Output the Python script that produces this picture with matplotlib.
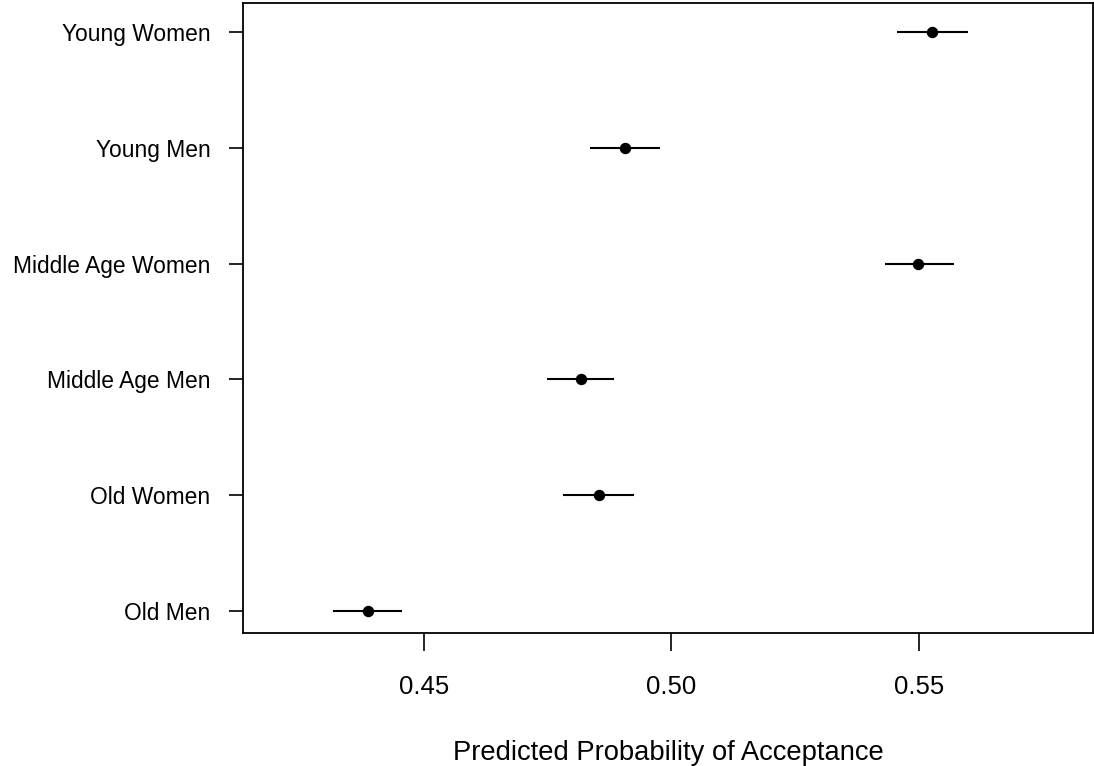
import matplotlib
matplotlib.use("Agg")
import matplotlib.pyplot as plt

# groups, bottom to top as drawn
groups = ["Old Men", "Old Women", "Middle Age Men", "Middle Age Women",
          "Young Men", "Young Women"]
estimate = [0.4388, 0.4854, 0.4818, 0.5498, 0.4907, 0.5525]
lower = [0.4316, 0.4781, 0.4749, 0.5431, 0.4835, 0.5456]
upper = [0.4457, 0.4925, 0.4884, 0.5571, 0.4976, 0.5599]
xticks = [0.45, 0.50, 0.55]

plt.rcParams['font.family'] = ['Liberation Sans', 'DejaVu Sans']

fig = plt.figure(figsize=(10.94, 7.66), dpi=100)
ax = fig.add_axes([243 / 1094, 133 / 766, 850 / 1094, 630 / 766])

pos = list(range(1, len(groups) + 1))
ax.hlines(pos, lower, upper, color="black", linewidth=1.5)
ax.plot(estimate, pos, "o", color="black", markersize=7.2)

ax.set_xlim(0.4135, 0.5851)
ax.set_ylim(0.81, 6.25)

ax.set_yticks(pos)
ax.set_yticklabels(groups, fontsize=16.4)
ax.set_xticks(xticks)
ax.set_xticklabels([f"{t:.2f}" for t in xticks], fontsize=18.5)

ax.tick_params(axis="y", length=10, width=1.2, pad=13.5)
ax.tick_params(axis="x", length=13, width=1.2, pad=17)

for s in ax.spines.values():
    s.set_linewidth(1.3)

ax.set_xlabel("Predicted Probability of Acceptance", fontsize=19.7, labelpad=30)

fig.savefig("out.png", dpi=100)
